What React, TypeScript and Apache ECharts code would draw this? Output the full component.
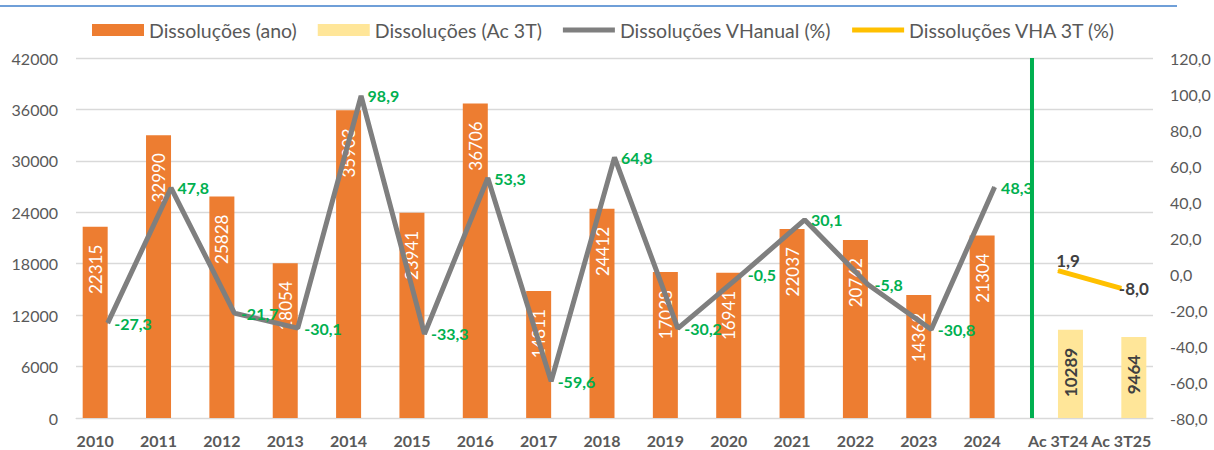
import React, { useEffect, useRef } from "react";
import * as echarts from "echarts";

const categories = ["2010","2011","2012","2013","2014","2015","2016","2017","2018","2019","2020","2021","2022","2023","2024","Ac 3T24","Ac 3T25"];
const dissAno = [22315,32990,25828,18054,35903,23941,36706,14811,24412,17028,16941,22037,20762,14362,21304,null,null];
const dissAc = [null,null,null,null,null,null,null,null,null,null,null,null,null,null,null,10289,9464];
const vhAnual = [-27.3,47.8,-21.7,-30.1,98.9,-33.3,53.3,-59.6,64.8,-30.2,-0.5,30.1,-5.8,-30.8,48.3,null,null];
const vha3T = [null,null,null,null,null,null,null,null,null,null,null,null,null,null,null,1.9,-8.0];
const leftTicks = { min: 0, max: 42000, interval: 6000 };
const rightTicks = { min: -80, max: 120, interval: 20 };
const separatorPos = 15.09;

const FONT = "Lato";
const comma = (v: number) => v.toFixed(1).replace(".", ",");
const LINE_ICON = "path://M0,0 L52,0 L52,5 L0,5 Z";

export default function App() {
  const ref = useRef<HTMLDivElement>(null);
  useEffect(() => {
    const chart = echarts.init(ref.current!, null, { renderer: "svg" });
    chart.setOption({
      animation: false,
      textStyle: { fontFamily: FONT },
      graphic: [
        { type: "line", shape: { x1: 0, y1: 6, x2: 1177, y2: 6 }, style: { stroke: "#6f9fd8", lineWidth: 2 } },
      ],
      legend: {
        left: 87,
        top: 15,
        itemWidth: 52,
        itemHeight: 12,
        itemGap: 21,
        textStyle: { fontFamily: FONT, fontSize: 19.5, color: "#595959" },
        data: [
          { name: "Dissoluções (ano)", icon: "rect" },
          { name: "Dissoluções (Ac 3T)", icon: "rect" },
          { name: "Dissoluções VHanual (%)", icon: LINE_ICON },
          { name: "Dissoluções VHA 3T (%)", icon: LINE_ICON },
        ],
      },
      grid: { left: 76, right: 61, top: 58, bottom: 32 },
      xAxis: [
        {
          type: "category",
          data: categories,
          axisTick: { show: false },
          axisLine: { lineStyle: { color: "#d9d9d9", width: 1 } },
          axisLabel: {
            margin: 14,
            interval: 0,
            fontFamily: FONT,
            fontSize: 16,
            fontWeight: "bold",
            color: "#595959",
            formatter: (v: string) => (v.startsWith("Ac") ? `{a|${v}}` : `{y|${v}}`),
            rich: {
              y: { padding: [0, 25, 0, 0], fontFamily: FONT, fontSize: 16, fontWeight: "bold", color: "#595959" },
              a: { fontFamily: FONT, fontSize: 16, fontWeight: "bold", color: "#595959" },
            },
          },
        },
        { type: "value", min: 0, max: 17, show: false },
      ],
      yAxis: [
        {
          type: "value",
          ...leftTicks,
          axisLine: { show: false },
          axisTick: { show: false },
          splitLine: { lineStyle: { color: "#d9d9d9", width: 1.3 } },
          axisLabel: { margin: 18, fontFamily: FONT, fontSize: 16, color: "#595959", formatter: (v: number) => String(v) },
        },
        {
          type: "value",
          ...rightTicks,
          axisLine: { show: false },
          axisTick: { show: false },
          splitLine: { show: false },
          axisLabel: { margin: 17, fontFamily: FONT, fontSize: 16, color: "#595959", formatter: comma },
        },
      ],
      series: [
        {
          name: "Dissoluções (ano)",
          type: "bar",
          data: dissAno,
          barWidth: 25,
          barGap: "0%",
          itemStyle: { color: "#ED7D31" },
          label: {
            show: true,
            position: "insideTop",
            distance: 18,
            rotate: 90,
            align: "right",
            verticalAlign: "middle",
            color: "#ffffff",
            fontFamily: FONT,
            fontSize: 17,
          },
        },
        {
          name: "Dissoluções (Ac 3T)",
          type: "bar",
          data: dissAc,
          barWidth: 25,
          barGap: "0%",
          itemStyle: { color: "#FFE699" },
          label: {
            show: true,
            position: "insideTop",
            distance: 18,
            rotate: 90,
            align: "right",
            verticalAlign: "middle",
            color: "#404040",
            fontFamily: FONT,
            fontSize: 17,
            fontWeight: "bold",
          },
        },
        {
          name: "Dissoluções VHanual (%)",
          type: "line",
          yAxisIndex: 1,
          data: vhAnual,
          symbol: "circle",
          symbolSize: 1,
          showAllSymbol: true,
          lineStyle: { color: "#7F7F7F", width: 5 },
          itemStyle: { color: "#7F7F7F" },
          label: {
            show: true,
            position: "right",
            distance: 6,
            color: "#00B050",
            fontFamily: FONT,
            fontSize: 16,
            fontWeight: "bold",
            formatter: (p: any) => comma(p.value),
          },
          z: 3,
        },
        {
          name: "Dissoluções VHA 3T (%)",
          type: "line",
          yAxisIndex: 1,
          symbol: "circle",
          symbolSize: 1,
          data: vha3T.map((v, i) =>
            v === null
              ? null
              : { value: v, label: i === 15 ? { position: "top", distance: 1, offset: [10, 0] } : { position: "right", distance: -3 } }
          ),
          lineStyle: { color: "#FFC000", width: 5 },
          itemStyle: { color: "#FFC000" },
          label: {
            show: true,
            color: "#404040",
            fontFamily: FONT,
            fontSize: 17,
            fontWeight: "bold",
            formatter: (p: any) => comma(p.value),
          },
          z: 3,
        },
        {
          name: "sep",
          type: "line",
          xAxisIndex: 1,
          yAxisIndex: 1,
          symbol: "none",
          data: [[separatorPos, rightTicks.min], [separatorPos, rightTicks.max]],
          lineStyle: { color: "#00B050", width: 4 },
          silent: true,
        },
      ],
    });
    return () => chart.dispose();
  }, []);
  return <div ref={ref} style={{ position: "absolute", left: 0, top: 0, width: 1214, height: 450, background: "#fff" }} />;
}
